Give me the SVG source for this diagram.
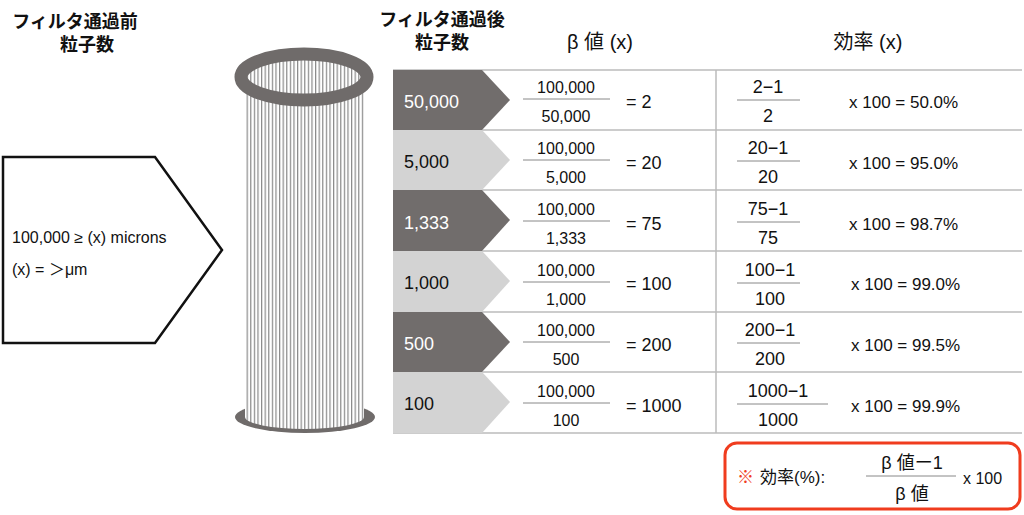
<svg xmlns="http://www.w3.org/2000/svg" width="1024" height="515" viewBox="0 0 1024 515">
<defs>
<style>
text{font-family:"Liberation Sans","Noto Sans CJK JP",sans-serif;fill:#111}
.h{font-size:18px;font-weight:bold;text-anchor:middle}
.n{font-size:18px}
.s{font-size:16px;text-anchor:middle}
.f{font-size:18px;text-anchor:middle}
.e{font-size:17px}
.fl{stroke:#888;stroke-width:1}
.rl{stroke:#bbb;stroke-width:1.5}
.w{fill:#fff}
</style>
<pattern id="str" x="243" y="0" width="3.6" height="10" patternUnits="userSpaceOnUse">
<rect width="3.6" height="10" fill="#fff"/><rect width="1.2" height="10" fill="#888"/>
</pattern>
</defs>
<rect width="1024" height="515" fill="#fff"/>
<g id="headers">
<text class="h" x="75" y="28">フィルタ通過前</text>
<text class="h" x="87" y="51">粒子数</text>
<text class="h" x="442" y="26">フィルタ通過後</text>
<text class="h" x="442" y="49">粒子数</text>
<text class="h" x="600" y="49" style="font-weight:normal;font-size:20px">β 値 (x)</text>
<text class="h" x="868" y="49" style="font-weight:normal;font-size:20px">効率 (x)</text>
</g>
<g id="input">
<polygon points="3,157 155,157 222,250 155,343 3,343" fill="#fff" stroke="#111" stroke-width="2.5"/>
<text x="12" y="243" style="font-size:16px">100,000 ≥ (x) microns</text>
<text x="12" y="275" style="font-size:16px">(x) = ＞μm</text>
</g>
<g id="filter">
<ellipse cx="305" cy="417" rx="70" ry="16" fill="#6f6b6a"/>
<path d="M245,85 H364 V417 A59.5,12 0 0 1 245,417 Z" fill="url(#str)"/>
<ellipse cx="304" cy="77" rx="63" ry="23" fill="url(#str)" stroke="#6f6b6a" stroke-width="13"/>
</g>
<g id="table">
<rect x="393" y="70" width="629" height="363" fill="#fff"/>
<line class="rl" x1="393" y1="70" x2="1022" y2="70"/>
<line class="rl" x1="393" y1="130" x2="1022" y2="130"/>
<line class="rl" x1="393" y1="190" x2="1022" y2="190"/>
<line class="rl" x1="393" y1="251" x2="1022" y2="251"/>
<line class="rl" x1="393" y1="312" x2="1022" y2="312"/>
<line class="rl" x1="393" y1="372" x2="1022" y2="372"/>
<line class="rl" x1="393" y1="433" x2="1022" y2="433"/>
<line class="rl" x1="716" y1="70" x2="716" y2="433"/>
<polygon points="393,70 482,70 510,100 482,130 393,130" fill="#716d6c"/>
<polygon points="393,130 482,130 510,160 482,190 393,190" fill="#d3d3d3"/>
<polygon points="393,190 482,190 510,220 482,251 393,251" fill="#716d6c"/>
<polygon points="393,251 482,251 510,281 482,312 393,312" fill="#d3d3d3"/>
<polygon points="393,312 482,312 510,342 482,372 393,372" fill="#716d6c"/>
<polygon points="393,372 482,372 510,402 482,433 393,433" fill="#d3d3d3"/>
<text class="n w" x="404" y="108">50,000</text>
<text class="n" x="404" y="168">5,000</text>
<text class="n w" x="404" y="229">1,333</text>
<text class="n" x="404" y="289">1,000</text>
<text class="n w" x="404" y="350">500</text>
<text class="n" x="404" y="410">100</text>
<g id="beta">
<line class="fl" x1="523" y1="99" x2="610" y2="99"/><text class="s" x="566" y="93">100,000</text><text class="s" x="566" y="122">50,000</text><text class="n" x="626" y="108">= 2</text>
<line class="fl" x1="523" y1="160" x2="610" y2="160"/><text class="s" x="566" y="154">100,000</text><text class="s" x="566" y="183">5,000</text><text class="n" x="626" y="169">= 20</text>
<line class="fl" x1="523" y1="221" x2="610" y2="221"/><text class="s" x="566" y="215">100,000</text><text class="s" x="566" y="244">1,333</text><text class="n" x="626" y="230">= 75</text>
<line class="fl" x1="523" y1="282" x2="610" y2="282"/><text class="s" x="566" y="276">100,000</text><text class="s" x="566" y="305">1,000</text><text class="n" x="626" y="290">= 100</text>
<line class="fl" x1="523" y1="342" x2="610" y2="342"/><text class="s" x="566" y="336">100,000</text><text class="s" x="566" y="365">500</text><text class="n" x="626" y="351">= 200</text>
<line class="fl" x1="523" y1="403" x2="610" y2="403"/><text class="s" x="566" y="397">100,000</text><text class="s" x="566" y="426">100</text><text class="n" x="626" y="412">= 1000</text>
</g>
<g id="eff">
<line class="fl" x1="737" y1="100" x2="800" y2="100"/><text class="f" x="768" y="93">2−1</text><text class="f" x="768" y="122">2</text><text class="e" x="849" y="108">x 100 = 50.0%</text>
<line class="fl" x1="737" y1="161" x2="800" y2="161"/><text class="f" x="768" y="154">20−1</text><text class="f" x="768" y="183">20</text><text class="e" x="849" y="169">x 100 = 95.0%</text>
<line class="fl" x1="737" y1="222" x2="800" y2="222"/><text class="f" x="768" y="215">75−1</text><text class="f" x="768" y="244">75</text><text class="e" x="849" y="230">x 100 = 98.7%</text>
<line class="fl" x1="737" y1="283" x2="800" y2="283"/><text class="f" x="770" y="276">100−1</text><text class="f" x="770" y="305">100</text><text class="e" x="851" y="290">x 100 = 99.0%</text>
<line class="fl" x1="737" y1="343" x2="800" y2="343"/><text class="f" x="770" y="336">200−1</text><text class="f" x="770" y="365">200</text><text class="e" x="851" y="351">x 100 = 99.5%</text>
<line class="fl" x1="737" y1="404" x2="828" y2="404"/><text class="f" x="778" y="397">1000−1</text><text class="f" x="778" y="426">1000</text><text class="e" x="851" y="412">x 100 = 99.9%</text>
</g>
</g>
<g id="note">
<rect x="725" y="443" width="295" height="66" rx="12" fill="#fff" stroke="#f03c1e" stroke-width="3"/>
<text x="737" y="483" style="font-size:17px;fill:#f03c1e;font-weight:bold">※</text>
<text x="760" y="483" style="font-size:17px">効率(%):</text>
<line class="fl" x1="866" y1="476" x2="956" y2="476"/>
<text class="f" x="912" y="469">β 値ー1</text>
<text class="f" x="912" y="500">β 値</text>
<text x="963" y="484" style="font-size:16px">x 100</text>
</g>
</svg>
